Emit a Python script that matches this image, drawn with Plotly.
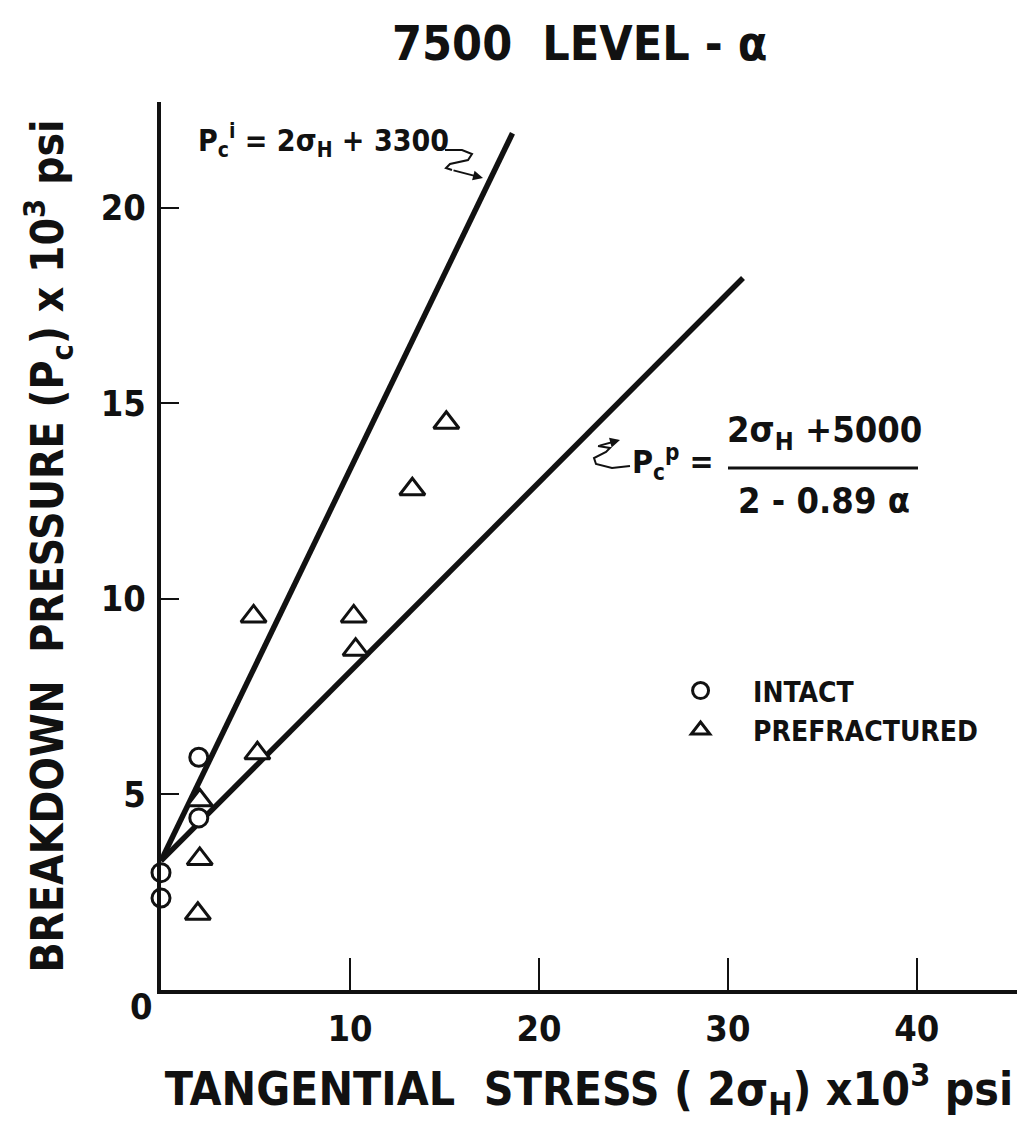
import plotly.graph_objects as go

# ---- data (x = 2*sigma_H, y = Pc, both x10^3 psi) ----
intact_x = [0.0, 0.0, 2.0, 2.0]
intact_y = [3.0, 2.35, 5.95, 4.4]
prefrac_x = [4.9, 10.2, 10.3, 5.1, 2.05, 2.05, 1.95, 15.1, 13.3]
prefrac_y = [9.55, 9.55, 8.7, 6.05, 4.85, 3.35, 1.95, 14.5, 12.8]
intact_line_x = [0.0, 18.6]
intact_line_y = [3.3, 21.9]
prefrac_line_x = [0.0, 30.8]
prefrac_line_y = [3.3, 18.2]
x_ticks = [10, 20, 30, 40]
y_ticks = [5, 10, 15, 20]

FONT = "Liberation Sans Narrow, DejaVu Sans Condensed, Arial Narrow, sans-serif"
BLACK = "#111111"


def f(size):
    return dict(size=size, family=FONT, color=BLACK, weight="bold")


# plot-area geometry (pixels) used only for decorations
L, R, T, B = 161, 9, 102, 144
XMAX, YMAX = 45.3, 22.7
PW, PH = 1026 - L - R, 1134 - T - B


def px(xp, yp):
    return ((xp - L) / PW * XMAX, (T + PH - yp) / PH * YMAX)


fig = go.Figure()
fig.add_trace(go.Scatter(x=intact_line_x, y=intact_line_y, mode="lines",
                         line=dict(color=BLACK, width=5.5), showlegend=False,
                         cliponaxis=False))
fig.add_trace(go.Scatter(x=prefrac_line_x, y=prefrac_line_y, mode="lines",
                         line=dict(color=BLACK, width=5.5), showlegend=False,
                         cliponaxis=False))
fig.add_trace(go.Scatter(x=intact_x, y=intact_y, mode="markers", name="INTACT",
                         marker=dict(symbol="circle", size=18, color="white",
                                     line=dict(color=BLACK, width=3)),
                         cliponaxis=False))
fig.add_trace(go.Scatter(x=prefrac_x, y=prefrac_y, mode="markers", name="PREFRACTURED",
                         marker=dict(symbol="triangle-up", size=22, color="white",
                                     line=dict(color=BLACK, width=3)),
                         cliponaxis=False))

ann = []
# formula for intact
x0, y0 = px(196, 140)
ann.append(dict(x=x0, y=y0, xanchor="left", yanchor="middle", showarrow=False,
                text="P<sub>c</sub><sup>i</sup> = 2σ<sub>H</sub> + 3300", font=f(30)))
# formula for prefractured
x0, y0 = px(630, 462)
ann.append(dict(x=x0, y=y0, xanchor="left", yanchor="middle", showarrow=False,
                text="P<sub>c</sub><sup>p</sup> =", font=f(32)))
x0, y0 = px(824, 432)
ann.append(dict(x=x0, y=y0, xanchor="center", yanchor="middle", showarrow=False,
                text="2σ<sub>H</sub> +5000", font=f(36)))
x0, y0 = px(824, 500)
ann.append(dict(x=x0, y=y0, xanchor="center", yanchor="middle", showarrow=False,
                text="2 - 0.89 α", font=f(36)))
# origin label
ann.append(dict(x=0, y=0, xanchor="center", yanchor="top", showarrow=False,
                text="0", xshift=-20, yshift=6, font=f(36)))
# arrow heads for squiggles
hx, hy = px(483, 178)
tx, ty = px(452, 170)
ann.append(dict(x=hx, y=hy, ax=tx, ay=ty, axref="x", ayref="y", text="",
                showarrow=True, arrowhead=2, arrowsize=1, arrowwidth=2,
                arrowcolor=BLACK))
hx, hy = px(620, 440)
tx, ty = px(598, 446)
ann.append(dict(x=hx, y=hy, ax=tx, ay=ty, axref="x", ayref="y", text="",
                showarrow=True, arrowhead=2, arrowsize=1, arrowwidth=2,
                arrowcolor=BLACK))

shapes = []
# fraction bar
a = px(728, 468)
b = px(918, 468)
shapes.append(dict(type="line", x0=a[0], y0=a[1], x1=b[0], y1=b[1],
                   line=dict(color=BLACK, width=3)))


def path(points):
    d = []
    for i, (xp, yp) in enumerate(points):
        dx, dy = px(xp, yp)
        d.append(("M" if i == 0 else "L") + f"{dx:.3f},{dy:.3f}")
    return " ".join(d)


shapes.append(dict(type="path", line=dict(color=BLACK, width=2),
                   path=path([(445, 150), (462, 150), (472, 154), (468, 160),
                              (450, 164), (446, 168), (452, 170)])))
shapes.append(dict(type="path", line=dict(color=BLACK, width=2),
                   path=path([(630, 466), (612, 468), (596, 464), (594, 458),
                              (606, 452), (610, 448), (598, 446)])))

fig.update_layout(
    width=1026, height=1134,
    margin=dict(l=L, r=R, t=T, b=B),
    paper_bgcolor="white", plot_bgcolor="white",
    font=dict(family=FONT, color=BLACK),
    title=dict(text="7500  LEVEL - α", x=0.565, xanchor="center", y=0.962,
               yanchor="middle", font=f(48)),
    xaxis=dict(range=[0, XMAX], showline=True, linewidth=4, linecolor=BLACK,
               showgrid=False, zeroline=False, tickmode="array", tickvals=x_ticks,
               ticks="inside", ticklen=32, tickwidth=2, tickcolor=BLACK,
               ticklabelstandoff=4, tickfont=f(36),
               title=dict(text="TANGENTIAL  STRESS ( 2σ<sub>H</sub>) x10<sup>3</sup> psi",
                          font=f(46), standoff=26)),
    yaxis=dict(range=[0, YMAX], showline=True, linewidth=4, linecolor=BLACK,
               showgrid=False, zeroline=False, tickmode="array", tickvals=y_ticks,
               ticks="inside", ticklen=18, tickwidth=2, tickcolor=BLACK,
               ticklabelstandoff=4, tickfont=f(36),
               title=dict(text="BREAKDOWN  PRESSURE (P<sub>c</sub>) x 10<sup>3</sup> psi",
                          font=f(44), standoff=24)),
    legend=dict(x=0.569, y=0.365, xanchor="left", yanchor="top",
                font=f(28), bgcolor="rgba(0,0,0,0)", itemwidth=95, tracegroupgap=0),
    annotations=ann, shapes=shapes, showlegend=True,
)

fig.write_html("out.html")
